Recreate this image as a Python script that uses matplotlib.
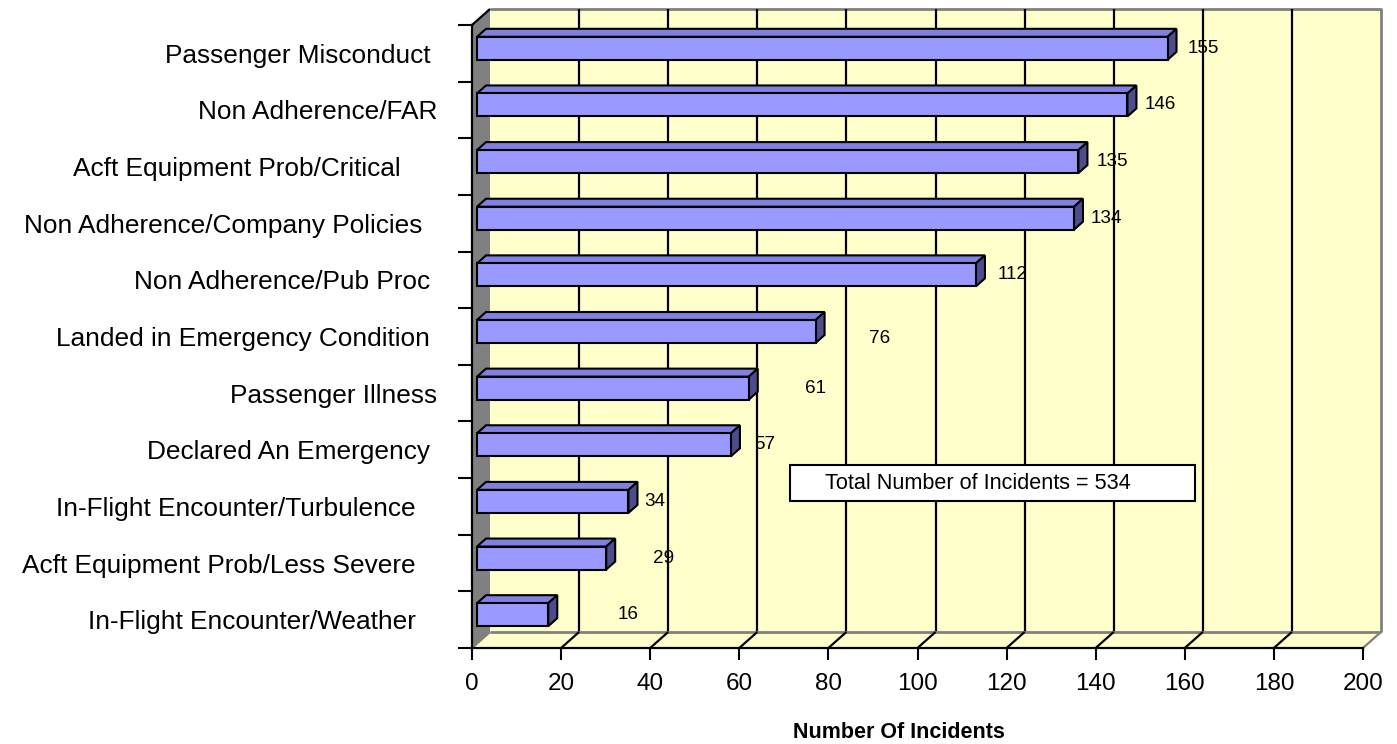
import matplotlib
matplotlib.use("Agg")
import matplotlib.pyplot as plt
from matplotlib.patches import Polygon, Rectangle
import numpy as np

# incident categories (top to bottom), trailing spaces as in the source sheet
categories = [
    "Passenger Misconduct ",
    "Non Adherence/FAR",
    "Acft Equipment Prob/Critical     ",
    "Non Adherence/Company Policies  ",
    "Non Adherence/Pub Proc ",
    "Landed in Emergency Condition ",
    "Passenger Illness",
    "Declared An Emergency ",
    "In-Flight Encounter/Turbulence   ",
    "Acft Equipment Prob/Less Severe   ",
    "In-Flight Encounter/Weather   ",
]
incidents = [155, 146, 135, 134, 112, 76, 61, 57, 34, 29, 16]
x_ticks = [0, 20, 40, 60, 80, 100, 120, 140, 160, 180, 200]
total_text = "Total Number of Incidents = 534"
x_title = "Number Of Incidents"

# where excel dropped the value labels (offset from bar end, in data units)
label_dx = [9.1, 8.4, 8.8, 8.3, 9.4, 15.4, 16.2, 8.8, 7.1, 13.9, 19.0]
label_dy = [0, 0, 0, 0, 0, 0.12, 0, 0, 0, 0, 0]

plt.rcParams['font.family'] = ['Liberation Sans', 'DejaVu Sans']

W, H = 1397, 744
fig = plt.figure(figsize=(W / 100, H / 100), dpi=100)
ax_l, ax_r, ax_t, ax_b = 472, 1363, 25, 648
ax = fig.add_axes([ax_l / W, (H - ax_b) / H, (ax_r - ax_l) / W, (ax_b - ax_t) / H])
n = len(categories)
ax.set_xlim(0, 200)
ax.set_ylim(n - 0.5, -0.5)
ax.patch.set_visible(False)

px_x = (ax_r - ax_l) / 200.0
px_y = (ax_b - ax_t) / float(n)


def off(px, py):
    # pixel shift (right, up) -> data shift
    return px / px_x, -py / px_y


def line(xs, ys, c="black", lw=1.6, z=1):
    ax.plot(xs, ys, color=c, lw=lw, zorder=z, clip_on=False, solid_capstyle="butt")


def poly(pts, fc, ec="none", lw=1.5, z=1):
    ax.add_patch(Polygon(pts, closed=True, facecolor=fc, edgecolor=ec, lw=lw,
                         joinstyle="miter", zorder=z, clip_on=False))


wall = "#FFFFCC"
bdx, bdy = off(18, 16)
top, bot = -0.5, n - 0.5

# back wall
poly([(bdx, top + bdy), (200 + bdx, top + bdy), (200 + bdx, bot + bdy), (bdx, bot + bdy)], wall, z=0)
line([bdx, 200 + bdx, 200 + bdx], [top + bdy, top + bdy, bot + bdy], c="#808080", lw=2)
for t in x_ticks[1:-1]:
    line([t + bdx, t + bdx], [top + bdy, bot + bdy])

# floor
poly([(0, bot), (200, bot), (200 + bdx, bot + bdy), (bdx, bot + bdy)], wall, z=1)
line([bdx, 200 + bdx], [bot + bdy, bot + bdy], c="#808080", lw=2, z=1.5)
for t in x_ticks:
    c = "#808080" if t in (0, 200) else "black"
    line([t, t + bdx], [bot, bot + bdy], c=c, z=1.5)

# left wall
poly([(0, top), (bdx, top + bdy), (bdx, bot + bdy), (0, bot)], "#808080", z=2)
line([0, bdx], [top, top + bdy], z=2.5)

# bars
bfx, bfy = off(5, 5)
ddx, ddy = off(9, 8)
bh = 23 / px_y
for i, v in enumerate(incidents):
    yt = i - bh / 2 + bfy
    yb = i + bh / 2 + bfy
    x0, x1 = bfx, v + bfx
    poly([(x0, yt), (x1, yt), (x1 + ddx, yt + ddy), (x0 + ddx, yt + ddy)], "#8080E0", ec="black", z=3)
    poly([(x1, yt), (x1 + ddx, yt + ddy), (x1 + ddx, yb + ddy), (x1, yb)], "#4D4D8C", ec="black", z=3)
    poly([(x0, yt), (x1, yt), (x1, yb), (x0, yb)], "#9999FF", ec="black", z=3)
    ax.text(v + label_dx[i], i + bfy + label_dy[i], str(v), ha="center", va="center",
            fontsize=13.6, zorder=5)

# total box
ax.add_patch(Rectangle((71.4, 7.27), 90.9, 0.64, facecolor="white", edgecolor="black", lw=1.5, zorder=4))
ax.text(113.5, 7.59, total_text, ha="center", va="center", fontsize=15.6, zorder=5)

# axes
for s in ["top", "right"]:
    ax.spines[s].set_visible(False)
for s in ["left", "bottom"]:
    ax.spines[s].set_linewidth(1.6)
    ax.spines[s].set_zorder(4)
ax.set_xticks(x_ticks)
ax.set_xticklabels([str(t) for t in x_ticks], fontsize=17.5)
ax.tick_params(axis="x", length=8.6, width=1.5, pad=9.5)
ax.set_yticks(np.arange(-0.5, n, 1.0))
ax.set_yticklabels([])
ax.tick_params(axis="y", which="major", length=10, width=1.5)
ax.set_yticks(range(n), labels=categories, minor=True)
ax.tick_params(axis="y", which="minor", length=0, pad=25, labelsize=18.9)

fig.text(899 / W, (H - 733) / H, x_title, ha="center", va="center", fontsize=15.5, fontweight="bold")

fig.savefig("out.png", dpi=100)
